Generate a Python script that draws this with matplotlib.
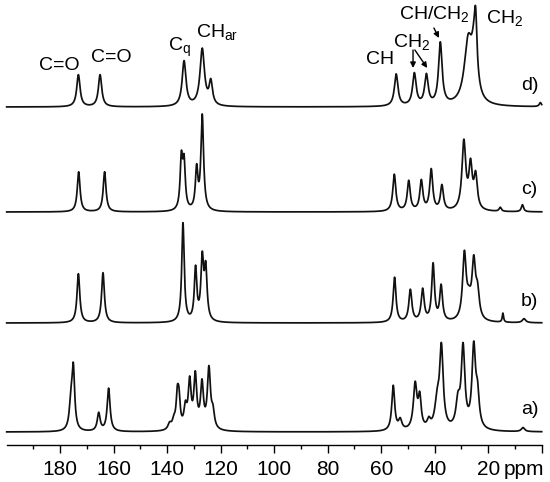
import numpy as np
import matplotlib.pyplot as plt

plt.rcParams['font.family'] = ['Liberation Sans', 'DejaVu Sans']
plt.rcParams['mathtext.fontset'] = 'custom'
plt.rcParams['mathtext.rm'] = 'Liberation Sans'

# Пики спектров: положение (ppm), высота, ширина на полувысоте (ppm)
a_pos = [176.0, 175.1, 165.6, 161.9, 139.1, 137.5, 136.2, 135.6, 133.2, 131.6, 129.5, 127.0,
         124.4, 122.9,
         55.5, 52.9, 47.3, 45.6, 42.2, 39.1, 37.5, 31.3, 29.4, 25.4, 24.0, 7.0]
a_amp = [25, 60, 18, 43, 6, 8, 30, 26, 20, 46, 52, 44,
         60, 15,
         45, 10, 45, 30, 8, 25, 80, 25, 80, 80, 30, 4]
a_wid = [1.4, 1.2, 1.3, 1.3, 1.5, 1.5, 1.1, 1.1, 1.3, 1.3, 1.3, 1.3,
         1.4, 1.3,
         1.3, 1.5, 1.6, 1.3, 1.5, 2.0, 1.6, 1.8, 1.6, 1.6, 1.5, 1.5]

b_pos = [173.2, 164.0, 134.1, 129.4, 126.9, 125.6,
         55.0, 49.1, 44.5, 40.6, 37.6, 28.9, 27.2, 25.4, 24.0, 14.5, 6.6]
b_amp = [49, 50, 99, 52, 60, 50,
         45, 32, 32, 57, 35, 65, 15, 55, 25, 9, 4]
b_wid = [1.25, 1.25, 1.1, 1.1, 1.2, 1.2,
         1.25, 1.35, 1.35, 1.25, 1.25, 1.6, 2.0, 1.6, 1.6, 0.6, 1.5]

c_pos = [173.1, 163.4, 134.7, 133.7, 129.0, 126.9,
         55.1, 49.7, 45.0, 41.3, 37.3, 29.1, 26.6, 24.7, 15.5, 7.2]
c_amp = [40, 40, 50, 45, 40, 95,
         37, 30, 30, 41, 25, 68, 42, 33, 4, 7]
c_wid = [1.25, 1.25, 1.1, 1.1, 1.1, 1.2,
         1.35, 1.35, 1.35, 1.35, 1.35, 1.7, 1.5, 1.5, 1.0, 1.0]

d_pos = [173.2, 165.1, 133.7, 126.9, 123.7,
         54.4, 47.6, 43.1, 37.9, 27.5, 25.3, 24.7, 0.5]
d_amp = [32, 32, 45, 57, 23,
         32, 32, 30, 62, 60, 40, 50, 4]
d_wid = [1.5, 1.5, 1.7, 2.0, 1.5,
         1.6, 1.6, 1.6, 1.6, 3.5, 2.6, 1.2, 1.0]

offsets = [13, 122, 233, 338]
trace_labels = ['a)', 'b)', 'c)', 'd)']

ticks_major = list(range(0, 200, 20))
ticks_minor = list(range(10, 200, 20))


def spectrum(x, pos, amp, wid):
    y = np.zeros_like(x)
    for p, h, w in zip(pos, amp, wid):
        y += h / (1 + ((x - p) / (w / 2)) ** 2)
    return y


x = np.linspace(200, 0, 4000)
traces = [(a_pos, a_amp, a_wid), (b_pos, b_amp, b_wid),
          (c_pos, c_amp, c_wid), (d_pos, d_amp, d_wid)]

fig = plt.figure(figsize=(5.5, 4.82), dpi=100)
ax = fig.add_axes([6.7 / 550, 37 / 482, 535 / 550, 445 / 482])

for (pos, amp, wid), off, lab in zip(traces, offsets, trace_labels):
    ax.plot(x, spectrum(x, pos, amp, wid) + off, color='#111111', lw=1.25, clip_on=False)
    ax.text(4.6, off + 22, lab, fontsize=14, ha='center', va='center')

ax.set_xlim(200, 0)
ax.set_ylim(0, 445)

for s in ['top', 'left', 'right']:
    ax.spines[s].set_visible(False)
ax.spines['bottom'].set_linewidth(1.0)
ax.set_yticks([])
ax.set_xticks(ticks_major)
ax.set_xticklabels(['' if t == 0 else str(t) for t in ticks_major])
ax.set_xticks(ticks_minor, minor=True)
ax.tick_params(axis='x', which='major', direction='out', length=6, width=1.0,
               labelsize=15, pad=5)
ax.tick_params(axis='x', which='minor', direction='out', length=3, width=1.0)
ax.annotate('ppm', xy=(6.5, 0), xycoords=('data', 'axes fraction'),
            xytext=(0, -10.8), textcoords='offset points',
            ha='center', va='top', fontsize=15)

# Подписи сигналов
ax.text(180.5, 380, 'C=O', fontsize=14, ha='center', va='center')
ax.text(161, 387, 'C=O', fontsize=14, ha='center', va='center')
ax.text(135.5, 398, r'C$_\mathregular{q}$', fontsize=14, ha='center', va='center')
ax.text(121.5, 412, r'CH$_\mathregular{ar}$', fontsize=14, ha='center', va='center')
ax.text(60.5, 385, 'CH', fontsize=14, ha='center', va='center')
ax.text(48.5, 402, r'CH$_\mathregular{2}$', fontsize=14, ha='center', va='center')
ax.text(40.0, 430, r'CH/CH$_\mathregular{2}$', fontsize=14, ha='center', va='center')
ax.text(13.8, 426, r'CH$_\mathregular{2}$', fontsize=14, ha='center', va='center')

arrow = dict(arrowstyle='-|>', lw=1.0, color='k', mutation_scale=8, shrinkA=0, shrinkB=0)
ax.annotate('', xy=(48.1, 377), xytext=(48.1, 395), arrowprops=arrow)
ax.annotate('', xy=(42.8, 377), xytext=(47.4, 395), arrowprops=arrow)
ax.annotate('', xy=(38.4, 407), xytext=(40.3, 417), arrowprops=arrow)

fig.savefig('out.png', dpi=100)
